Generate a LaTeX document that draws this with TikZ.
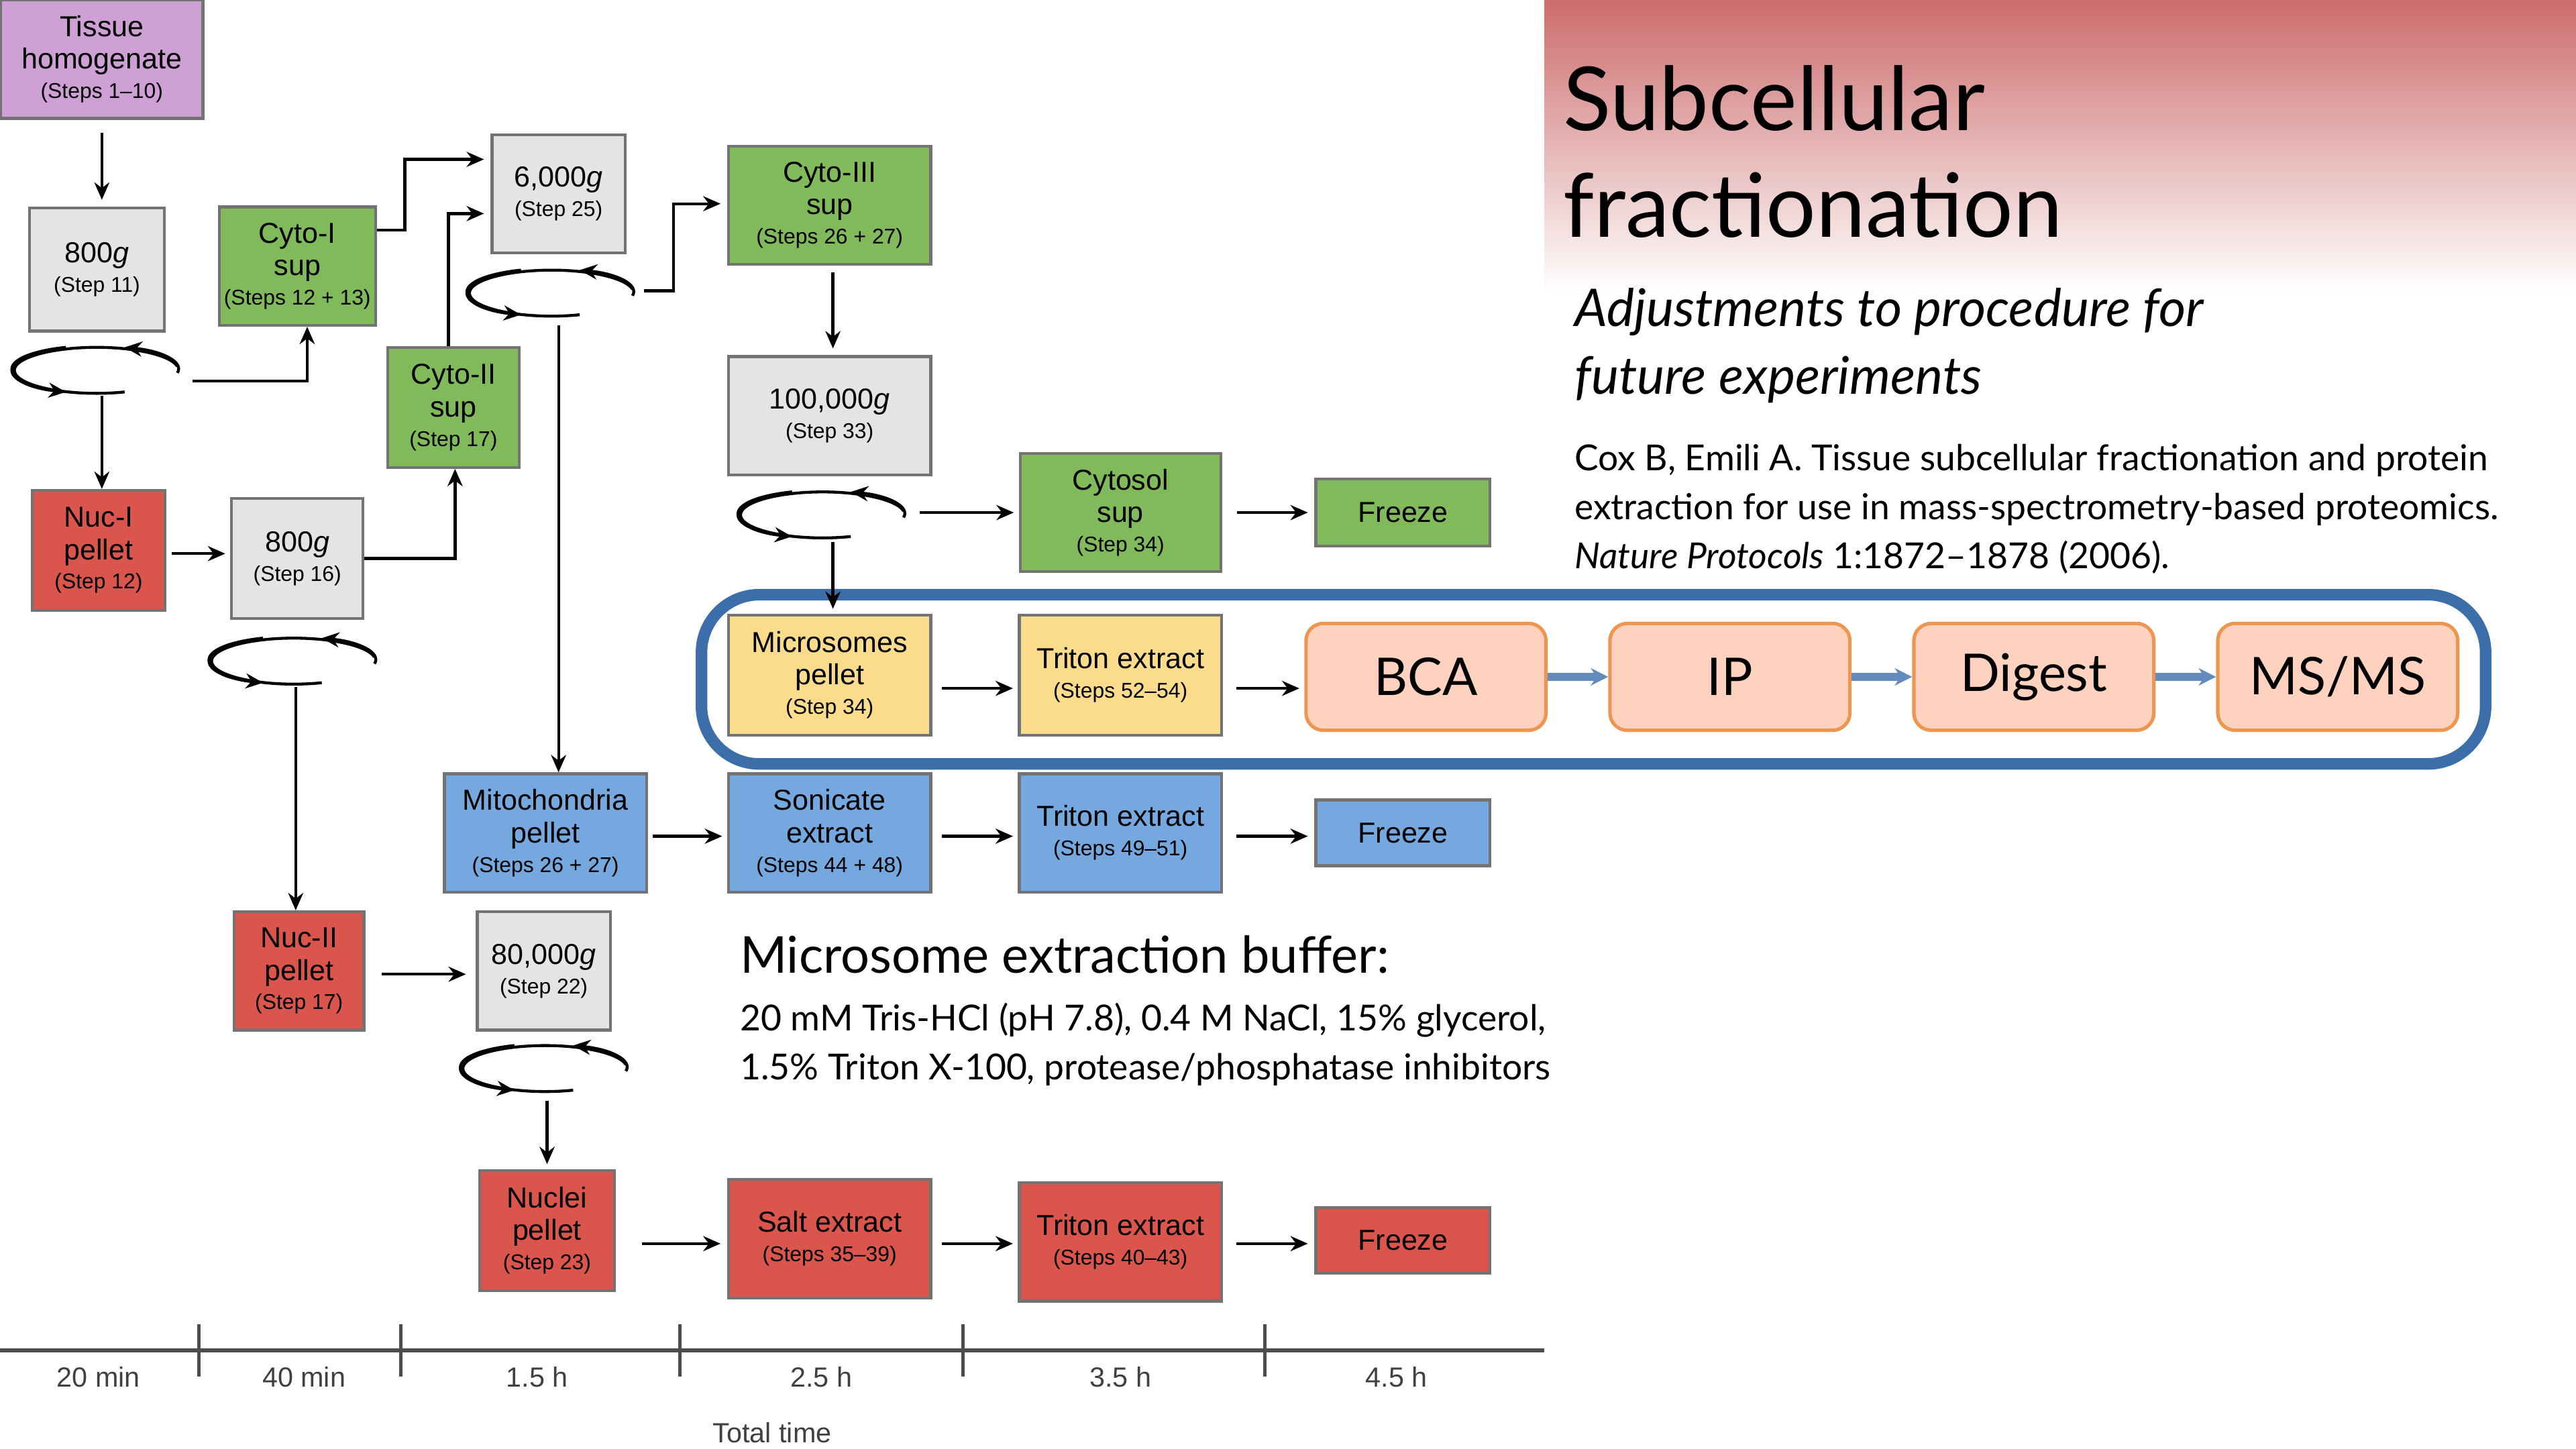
\documentclass[tikz,border=0pt]{standalone}
\usepackage{fontspec}
\setmainfont{Liberation Sans}
\newfontfamily\titlefont[Ligatures=TeX]{Lato}
\usetikzlibrary{arrows.meta,positioning,calc}
\definecolor{boxgray}{RGB}{228,228,228}
\definecolor{boxgreen}{RGB}{128,186,90}
\definecolor{boxred}{RGB}{218,86,76}
\definecolor{boxblue}{RGB}{118,168,224}
\definecolor{boxyellow}{RGB}{250,220,140}
\definecolor{boxpurple}{RGB}{206,160,214}
\definecolor{peach}{RGB}{253,210,190}
\definecolor{peachline}{RGB}{238,150,80}
\definecolor{frameblue}{RGB}{60,110,170}
\definecolor{titlered}{RGB}{204,108,108}
\tikzset{
  stepbox/.style={draw=black!55, line width=0.5pt, align=center, inner sep=0pt,
    font=\fontsize{5pt}{5.6pt}\selectfont},
  bw/.style 2 args={minimum width=#1 cm, minimum height=#2 cm},
  arr/.style={-{Stealth[length=3pt,width=2.6pt]}, line width=0.5pt},
  barr/.style={-{Stealth[length=3pt,width=3pt]}, line width=1.4pt, draw=frameblue!80},
  workbox/.style={draw=peachline, fill=peach, rounded corners=3pt, line width=0.6pt,
    minimum width=1.46cm, minimum height=0.65cm, font=\fontsize{9pt}{9pt}\titlefont},
  lbl/.style={font=\fontsize{4.8pt}{5pt}\selectfont, text=black!75},
}
\newcommand{\stp}[1]{\\[-0.5pt]{\fontsize{3.7pt}{4pt}\selectfont #1}}
% centrifuge symbol
\newcommand{\spinner}[2]{%
  \draw[arr] ($(#1)+(-50,-2)$) arc[start angle=190,end angle=110,x radius=50,y radius=14];
  \draw[line width=0.5pt] ($(#1)+(50,-2)$) arc[start angle=350,end angle=70,x radius=50,y radius=14];
  \draw[arr] ($(#1)+(50,2)$) arc[start angle=10,end angle=-70,x radius=50,y radius=14];
  \draw[line width=0.5pt] ($(#1)+(-50,2)$) arc[start angle=170,end angle=250,x radius=50,y radius=14];
  \coordinate (#2) at (#1);}
\begin{document}
\begin{tikzpicture}[x=0.01cm,y=-0.01cm]
\useasboundingbox (0,0) rectangle (1568,882);
\shade[top color=titlered, bottom color=white] (940,0) rectangle (1568,178);
% title block
\node[anchor=west, font=\fontsize{15.3pt}{16pt}\titlefont] (t1) at (939,60) {Subcellular};
\node[anchor=west, font=\fontsize{15.3pt}{16pt}\titlefont] (t2) at (939,125) {fractionation};
\node[anchor=west, font=\fontsize{9pt}{9pt}\titlefont\itshape] (t3) at (946,190) {Adjustments to procedure for};
\node[anchor=west, font=\fontsize{9pt}{9pt}\titlefont\itshape] (t4) at (946,231) {future experiments};
\node[anchor=north west, align=left, font=\fontsize{6.2pt}{8.5pt}\titlefont] (cite) at (946,258)
  {Cox B, Emili A. Tissue subcellular fractionation and protein\\
   extraction for use in mass-spectrometry-based proteomics.\\
   \textit{Nature Protocols} 1:1872--1878 (2006).};
% boxes
\node[stepbox, fill=boxpurple, bw={1.23}{0.72}] (tis) at (62,36) {Tissue\\homogenate\stp{(Steps 1--10)}};
\node[stepbox, fill=boxgray, bw={0.82}{0.75}] (ga) at (59,164) {800\textit{g}\stp{(Step 11)}};
\node[stepbox, fill=boxgreen, bw={0.95}{0.72}] (cyi) at (181,162) {Cyto-I\\sup\stp{(Steps 12 + 13)}};
\node[stepbox, fill=boxgray, bw={0.81}{0.72}] (gb) at (340,118) {6,000\textit{g}\stp{(Step 25)}};
\node[stepbox, fill=boxgreen, bw={1.23}{0.72}] (cyiii) at (505,125) {Cyto-III\\sup\stp{(Steps 26 + 27)}};
\node[stepbox, fill=boxgreen, bw={0.80}{0.73}] (cyii) at (276,248) {Cyto-II\\sup\stp{(Step 17)}};
\node[stepbox, fill=boxgray, bw={1.23}{0.72}] (gc) at (505,253) {100,000\textit{g}\stp{(Step 33)}};
\node[stepbox, fill=boxred, bw={0.81}{0.73}] (nuci) at (60,335) {Nuc-I\\pellet\stp{(Step 12)}};
\node[stepbox, fill=boxgray, bw={0.80}{0.73}] (gd) at (181,340) {800\textit{g}\stp{(Step 16)}};
\node[stepbox, fill=boxgreen, bw={1.22}{0.72}] (cytosol) at (682,312) {Cytosol\\sup\stp{(Step 34)}};
\node[stepbox, fill=boxgreen, bw={1.06}{0.41}] (frza) at (854,312) {Freeze};
\node[stepbox, fill=boxyellow, bw={1.23}{0.73}] (micro) at (505,411) {Microsomes\\pellet\stp{(Step 34)}};
\node[stepbox, fill=boxyellow, bw={1.23}{0.73}] (trya) at (682,411) {Triton extract\stp{(Steps 52--54)}};
\node[stepbox, fill=boxblue, bw={1.23}{0.72}] (mito) at (332,507) {Mitochondria\\pellet\stp{(Steps 26 + 27)}};
\node[stepbox, fill=boxblue, bw={1.23}{0.72}] (soni) at (505,507) {Sonicate\\extract\stp{(Steps 44 + 48)}};
\node[stepbox, fill=boxblue, bw={1.23}{0.72}] (tryb) at (682,507) {Triton extract\stp{(Steps 49--51)}};
\node[stepbox, fill=boxblue, bw={1.06}{0.40}] (frzb) at (854,507) {Freeze};
\node[stepbox, fill=boxred, bw={0.79}{0.72}] (nucii) at (182,591) {Nuc-II\\pellet\stp{(Step 17)}};
\node[stepbox, fill=boxgray, bw={0.81}{0.72}] (ge) at (331,591) {80,000\textit{g}\stp{(Step 22)}};
\node[stepbox, fill=boxred, bw={0.82}{0.73}] (nuclei) at (333,749) {Nuclei\\pellet\stp{(Step 23)}};
\node[stepbox, fill=boxred, bw={1.23}{0.72}] (salt) at (505,754) {Salt extract\stp{(Steps 35--39)}};
\node[stepbox, fill=boxred, bw={1.23}{0.72}] (tryc) at (682,756) {Triton extract\stp{(Steps 40--43)}};
\node[stepbox, fill=boxred, bw={1.06}{0.40}] (frzc) at (854,755) {Freeze};
% new workflow
\draw[frameblue, line width=2pt, rounded corners=10pt] (427,362) rectangle (1513,465);
\node[workbox] (bca) at (868,412) {BCA};
\node[workbox] (ip) at (1053,412) {IP};
\node[workbox] (dig) at (1238,412) {Digest};
\node[workbox] (msms) at (1423,412) {MS/MS};
\draw[barr] (bca) -- (ip);
\draw[barr] (ip) -- (dig);
\draw[barr] (dig) -- (msms);
% centrifuges
\spinner{58,225}{sa}
\spinner{335,178}{sb}
\spinner{500,313}{sc}
\spinner{178,402}{sd}
\spinner{331,650}{se}
% connectors
\draw[arr] ($(tis.south)+(0,8)$) -- ($(ga.north)+(3,-4)$);
\draw[arr] ($(sa)+(4,16)$) -- (nuci.north -| 62,0);
\draw[arr] ($(sa)+(59,7)$) -| (cyi.south -| 187,0);
\draw[arr] ($(cyi.east)+(0,-22)$) -- ++(17,0) |- ($(gb.west)+(-4,-21)$);
\draw[arr] (cyii.north -| 273,0) |- ($(gb.west)+(-4,12)$);
\draw[arr] (gd.east) -| (cyii.south -| 277,0);
\draw[arr] ($(nuci.east)+(3,2)$) -- ($(gd.west)+(-3,-3)$);
\draw[arr] ($(sb)+(57,-1)$) -- ++(18,0) |- ($(cyiii.west)+(-4,-1)$);
\draw[arr] ($(sb)+(5,20)$) -- (mito.north -| 340,0);
\draw[arr] ($(cyiii.south)+(2,4)$) -- ($(gc.north)+(2,-4)$);
\draw[arr] ($(sc)+(60,-1)$) -- ($(cytosol.west)+(-3,0)$);
\draw[arr] ($(cytosol.east)+(9,0)$) -- ($(frza.west)+(-4,0)$);
\draw[arr] ($(sc)+(7,17)$) -- ($(micro.north)+(2,-3)$);
\draw[arr] ($(micro.east)+(6,8)$) -- ($(trya.west)+(-3,8)$);
\draw[arr] ($(trya.east)+(8,8)$) -- ($(bca.west)+(-3,7)$);
\draw[arr] ($(mito.east)+(3,2)$) -- ($(soni.west)+(-3,2)$);
\draw[arr] ($(soni.east)+(6,2)$) -- ($(tryb.west)+(-3,2)$);
\draw[arr] ($(tryb.east)+(8,2)$) -- ($(frzb.west)+(-4,2)$);
\draw[arr] ($(sd)+(2,16)$) -- (nucii.north -| 180,0);
\draw[arr] ($(nucii.east)+(10,2)$) -- ($(ge.west)+(-6,2)$);
\draw[arr] ($(se)+(2,20)$) -- ($(nuclei.north)+(0,-3)$);
\draw[arr] ($(nuclei.east)+(16,8)$) -- ($(salt.west)+(-4,3)$);
\draw[arr] ($(salt.east)+(6,3)$) -- ($(tryc.west)+(-3,1)$);
\draw[arr] ($(tryc.east)+(8,1)$) -- ($(frzc.west)+(-4,2)$);
% buffer note
\node[anchor=west, font=\fontsize{8.8pt}{9pt}\titlefont] (buf) at (438,581) {Microsome extraction buffer:};
\node[anchor=north west, align=left, font=\fontsize{6.2pt}{8.5pt}\titlefont] (bufl) at (438,598)
  {20 mM Tris-HCl (pH 7.8), 0.4 M NaCl, 15\% glycerol,\\
   1.5\% Triton X-100, protease/phosphatase inhibitors};
% time axis
\coordinate (ax0) at (0,822);
\coordinate (ax1) at (940,822);
\draw[black!70, line width=0.6pt] (ax0) -- (ax1);
\foreach \tx in {121,244,414,586,770}
  \draw[black!70, line width=0.6pt] (\tx,806) -- (\tx,838);
\foreach \tx/\tt in {60/20 min,185/40 min,327/1.5 h,500/2.5 h,682/3.5 h,850/4.5 h}
  \node[lbl] at (\tx,838) {\tt};
\node[lbl] (total) at (470,872) {Total time};
\end{tikzpicture}
\end{document}
